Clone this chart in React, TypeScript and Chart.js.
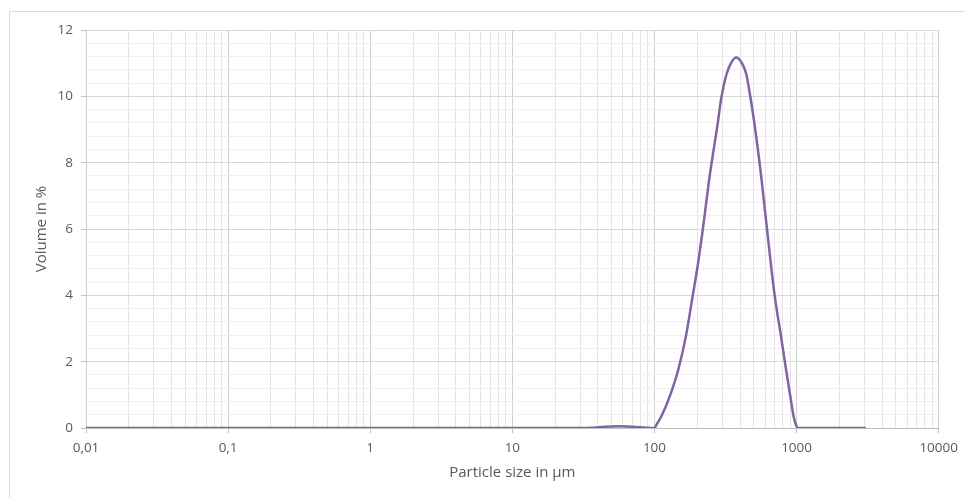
import React, { useEffect, useRef } from "react";
import { Chart, registerables } from "chart.js";

Chart.register(...registerables);

// Particle size (µm) and volume (%)
const sizes = [
  0.01, 0.1, 1, 10, 30, 37, 45, 57, 70, 88, 100, 103, 113, 129, 148, 167, 186,
  200, 216, 246, 279, 294, 322, 347, 376, 407, 442, 473, 505, 563, 621, 657,
  706, 778, 844, 904, 950, 992, 1030, 1100, 2000, 3080,
];
const volume = [
  0, 0, 0, 0, 0, 0.01, 0.04, 0.05, 0.04, 0.01, 0, 0.09, 0.39, 0.99, 1.8, 2.8,
  4.0, 4.81, 5.81, 7.67, 9.2, 9.9, 10.68, 11.02, 11.17, 11.04, 10.68, 9.98,
  9.18, 7.6, 5.95, 5.0, 3.9, 2.75, 1.75, 0.95, 0.38, 0.08, 0, 0, 0, 0,
];

const xMajorTicks = [0.01, 0.1, 1, 10, 100, 1000, 10000];
const xTickLabels = ["0,01", "0,1", "1", "10", "100", "1000", "10000"];
const yMajorTicks = [0, 2, 4, 6, 8, 10, 12];
const yMinorPerMajor = 5;

const FONT = "'Open Sans', 'DejaVu Sans', sans-serif";
const TEXT = "#595959";

function isPow10(v: number) {
  const l = Math.log10(v);
  return Math.abs(l - Math.round(l)) < 1e-6;
}

export default function App() {
  const ref = useRef<HTMLCanvasElement | null>(null);

  useEffect(() => {
    if (!ref.current) return;

    const xAll: number[] = [];
    for (let i = 0; i < xMajorTicks.length; i++) {
      xAll.push(xMajorTicks[i]);
      if (i < xMajorTicks.length - 1) {
        for (let m = 2; m <= 9; m++) xAll.push(+(xMajorTicks[i] * m).toPrecision(6));
      }
    }
    const yAll: number[] = [];
    for (let i = 0; i < yMajorTicks.length; i++) {
      yAll.push(yMajorTicks[i]);
      if (i < yMajorTicks.length - 1) {
        const step = (yMajorTicks[i + 1] - yMajorTicks[i]) / yMinorPerMajor;
        for (let k = 1; k < yMinorPerMajor; k++) yAll.push(+(yMajorTicks[i] + k * step).toFixed(4));
      }
    }
    const yIsMajor = (v: number) => yMajorTicks.some((t) => Math.abs(t - v) < 1e-6);

    const outerBorder = {
      id: "outerBorder",
      beforeDraw(chart: any) {
        const c = chart.ctx;
        c.save();
        c.fillStyle = "#ffffff";
        c.fillRect(0, 0, chart.width, chart.height);
        c.strokeStyle = "#d9d9d9";
        c.lineWidth = 1;
        c.strokeRect(9.5, 11.5, chart.width + 20, chart.height + 20);
        c.restore();
      },
    };

    const chart = new Chart(ref.current, {
      type: "line",
      data: {
        datasets: [
          {
            data: sizes.map((s, i) => ({ x: s, y: volume[i] })),
            borderColor: "#8064a2",
            borderWidth: 2.5,
            pointRadius: 0,
            cubicInterpolationMode: "monotone",
            fill: false,
          },
        ],
      },
      options: {
        animation: false,
        responsive: false,
        maintainAspectRatio: false,
        layout: { padding: { left: 0, right: 26, top: 30, bottom: 0 } },
        plugins: { legend: { display: false }, tooltip: { enabled: false } },
        scales: {
          x: {
            type: "logarithmic",
            min: 0.01,
            max: 10000,
            afterFit(scale: any) {
              scale.height = 70;
            },
            afterBuildTicks(scale: any) {
              scale.ticks = xAll.map((v) => ({ value: v, major: isPow10(v) }));
            },
            ticks: {
              autoSkip: false,
              maxRotation: 0,
              minRotation: 0,
              padding: 7,
              color: TEXT,
              font: { family: FONT, size: 13.5 },
              callback(value: any) {
                const v = Number(value);
                if (!isPow10(v)) return "";
                const idx = xMajorTicks.findIndex((t) => Math.abs(Math.log10(t) - Math.log10(v)) < 1e-6);
                return idx >= 0 ? xTickLabels[idx] : "";
              },
            },
            grid: {
              color: (ctx: any) => (ctx.tick && isPow10(ctx.tick.value) ? "#d0d0d0" : "#e4e4e4"),
              tickColor: (ctx: any) => (ctx.tick && isPow10(ctx.tick.value) ? "#bfbfbf" : "rgba(0,0,0,0)"),
              tickLength: 5,
            },
            border: { color: "#bfbfbf" },
            title: {
              display: true,
              text: "Particle size in µm",
              color: TEXT,
              font: { family: FONT, size: 15 },
              padding: { top: 0, bottom: 16 },
            },
          },
          y: {
            type: "linear",
            min: 0,
            max: 12,
            afterFit(scale: any) {
              scale.width = 86;
            },
            afterBuildTicks(scale: any) {
              scale.ticks = yAll.map((v) => ({ value: v, major: yIsMajor(v) }));
            },
            ticks: {
              autoSkip: false,
              padding: 8,
              color: TEXT,
              font: { family: FONT, size: 13.5 },
              callback(value: any) {
                const v = Number(value);
                return yIsMajor(v) ? String(Math.round(v)) : "";
              },
            },
            grid: {
              color: (ctx: any) => (ctx.tick && yIsMajor(ctx.tick.value) ? "#d9d9d9" : "#efefef"),
              tickColor: (ctx: any) => (ctx.tick && yIsMajor(ctx.tick.value) ? "#bfbfbf" : "rgba(0,0,0,0)"),
              tickLength: 5,
            },
            border: { color: "#d0d0d0" },
            title: {
              display: true,
              text: "Volume in %",
              color: TEXT,
              font: { family: FONT, size: 15 },
              padding: { top: 33, bottom: 0 },
            },
          },
        },
      },
      plugins: [outerBorder],
    } as any);

    return () => chart.destroy();
  }, []);

  return (
    <div style={{ position: "absolute", left: 0, top: 0, width: 965, height: 498 }}>
      <canvas ref={ref} width={965} height={498} style={{ display: "block" }} />
    </div>
  );
}
